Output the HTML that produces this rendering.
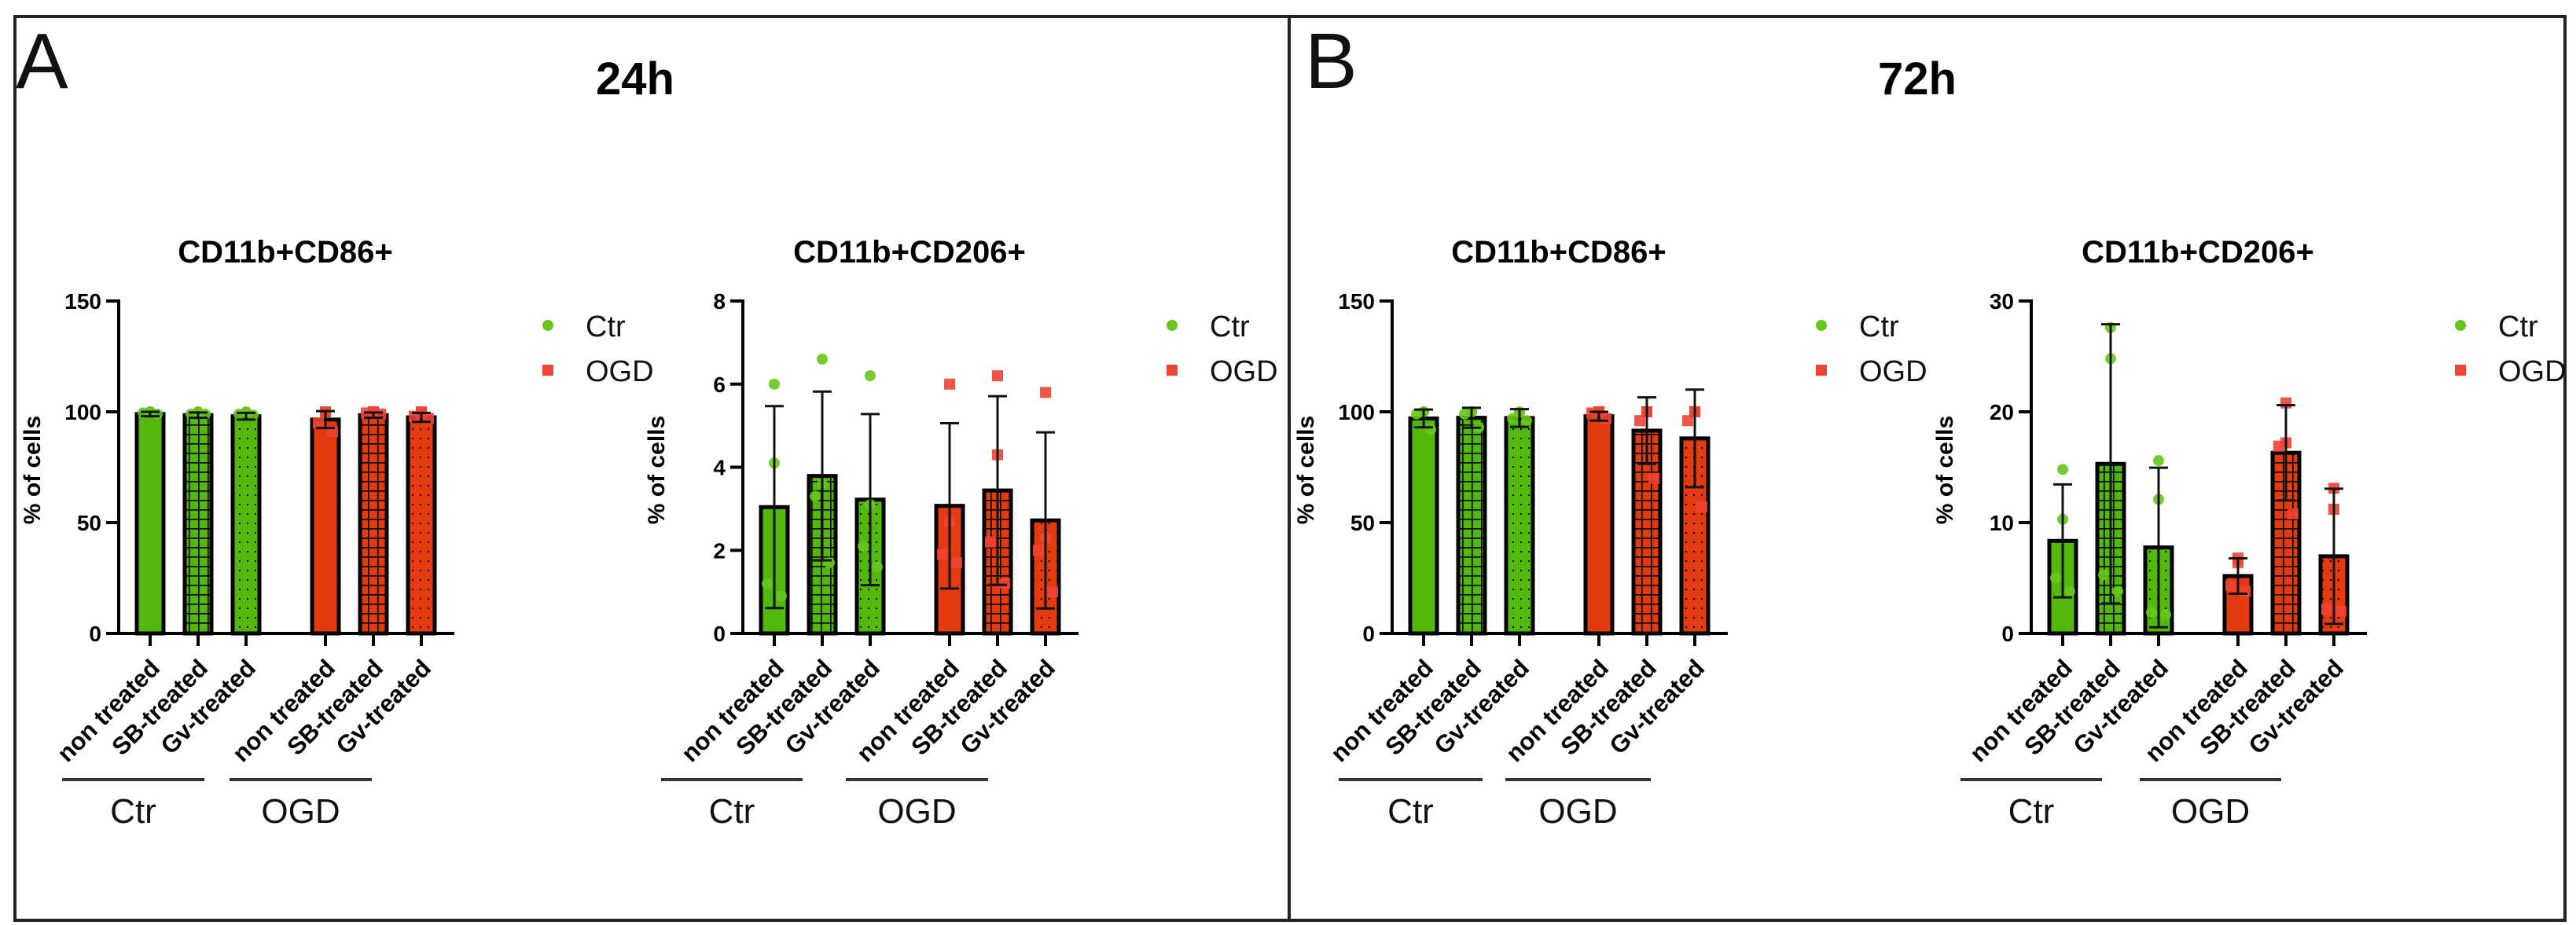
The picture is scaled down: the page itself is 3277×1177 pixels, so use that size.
<!DOCTYPE html>
<html><head><meta charset="utf-8">
<style>
html,body{margin:0;padding:0;background:#fff;}
svg{display:block;font-family:"Liberation Sans",Arial,sans-serif;}
</style></head>
<body>
<svg id="fig" width="3277" height="1177" viewBox="0 0 3277 1177" xmlns="http://www.w3.org/2000/svg">
<defs>
<pattern id="gridG" width="12" height="12" patternUnits="userSpaceOnUse"><rect width="12" height="12" fill="#52b80c"/><path d="M0 0.5H12M0.5 0V12" stroke="#000" stroke-width="2.2"/></pattern>
<pattern id="gridR" width="12" height="12" patternUnits="userSpaceOnUse"><rect width="12" height="12" fill="#e33a10"/><path d="M0 0.5H12M0.5 0V12" stroke="#000" stroke-width="2.2"/></pattern>
<pattern id="dotG" width="10" height="12" patternUnits="userSpaceOnUse"><rect width="10" height="12" fill="#52b80c"/><rect x="4" y="5" width="2" height="2" fill="#000"/></pattern>
<pattern id="dotR" width="10" height="12" patternUnits="userSpaceOnUse"><rect width="10" height="12" fill="#e33a10"/><rect x="4" y="5" width="2" height="2" fill="#000"/></pattern>
</defs>
<rect x="19" y="21" width="3244" height="1150" fill="none" stroke="#222" stroke-width="4"/>
<line x1="1640" y1="21" x2="1640" y2="1171" stroke="#222" stroke-width="4"/>
<text x="20" y="112" font-size="100" fill="#111">A</text>
<text x="808" y="120" font-size="58" font-weight="bold" text-anchor="middle">24h</text>
<text x="1660" y="112" font-size="100" fill="#111">B</text>
<text x="2439" y="120" font-size="58" font-weight="bold" text-anchor="middle">72h</text>
<g id="charts"></g>
</svg>
<script>
// ----- data -----
const categories = ["non treated","SB-treated","Gv-treated","non treated","SB-treated","Gv-treated"];
const groupLabels = ["Ctr","OGD"];
const chartTitles = ["CD11b+CD86+","CD11b+CD206+","CD11b+CD86+","CD11b+CD206+"];
const yMaxes = [150, 8, 150, 30];
const tickLabelsA1 = [0,50,100,150];
const tickLabelsA2 = [0,2,4,6,8];
const tickLabelsB1 = [0,50,100,150];
const tickLabelsB2 = [0,10,20,30];

const meansA1 = [99, 98.5, 98, 96.5, 98.5, 97.5];
const sdA1 = [1, 1.2, 1.5, 3.8, 1.2, 2];
const pointsA1 = [[100,100,99.5,99],[100,99.5,99,99],[100,99.5,99,98.5],[100,100,95,91],[100,100,99.5,99],[100,99.5,98,97]];

const meansA2 = [3.04, 3.79, 3.22, 3.07, 3.44, 2.72];
const sdA2 = [2.43, 2.03, 2.06, 1.99, 2.27, 2.12];
const pointsA2 = [[6.0,4.1,1.2,0.9],[6.6,3.6,3.3,1.7],[6.2,3.1,2.1,1.6],[6.0,2.7,1.9,1.7],[6.2,4.3,2.2,1.2],[5.8,2.3,2.0,1.0]];

const meansB1 = [97, 97.3, 97.2, 98, 91.5, 88];
const sdB1 = [4, 4.5, 4, 2, 15, 22];
const pointsB1 = [[100,100,99,92],[100,100,99,93],[100,99.5,97,96],[100,100,99.5,97],[100,100,96,70],[100,100,96,57]];

const meansB2 = [8.35, 15.3, 7.76, 5.18, 16.3, 6.96];
const sdB2 = [5.1, 12.6, 7.2, 1.6, 4.3, 6.1];
const pointsB2 = [[14.8,10.3,5.0,3.8],[27.6,24.8,5.3,3.8],[15.6,12.1,1.9,1.7],[6.8,6.4,4.3,3.8],[20.8,17.2,16.9,10.8],[13.1,11.2,2.2,2.0]];

const jitter = [0,0,-9,9];

// ----- layout -----
const charts = [
  {ax:151, means:meansA1, sd:sdA1, pts:pointsA1, ticks:tickLabelsA1, ymax:yMaxes[0], title:chartTitles[0], g1:[-72,109], g2:[141,322], id:"a-cd86"},
  {ax:945, means:meansA2, sd:sdA2, pts:pointsA2, ticks:tickLabelsA2, ymax:yMaxes[1], title:chartTitles[1], g1:[-104,76], g2:[131,312], id:"a-cd206"},
  {ax:1771, means:meansB1, sd:sdB1, pts:pointsB1, ticks:tickLabelsB1, ymax:yMaxes[2], title:chartTitles[2], g1:[-68,115], g2:[144,329], id:"b-cd86"},
  {ax:2584, means:meansB2, sd:sdB2, pts:pointsB2, ticks:tickLabelsB2, ymax:yMaxes[3], title:chartTitles[3], g1:[-90,90], g2:[138,318], id:"b-cd206"}
];
const Y0 = 806, Y1 = 383;
const NS = "http://www.w3.org/2000/svg";
const root = document.getElementById("charts");
function mk(tag, attrs, parent, txt){
  const e = document.createElementNS(NS, tag);
  for (const k in attrs) e.setAttribute(k, attrs[k]);
  if (txt !== undefined) e.textContent = txt;
  (parent||root).appendChild(e);
  return e;
}
const fills = ["#52b80c","url(#gridG)","url(#dotG)","#e33a10","url(#gridR)","url(#dotR)"];
const ptCol = ["#66c81a","#66c81a","#66c81a","#ee4433","#ee4433","#ee4433"];

charts.forEach(c => {
  const g = mk("g", {});
  
  
  const yS = v => Y0 - (v / c.ymax) * (Y0 - Y1);
  const xS = i => c.ax + 40 + i * 61 + (i >= 3 ? 40 : 0);

  const t = mk("text", {x:c.ax+212, y:334, "font-size":40, "font-weight":"bold", "text-anchor":"middle"}, g, c.title);
  
  

  // bars
  c.means.forEach((m, i) => {
    const x = xS(i), y = yS(m);
    const r = mk("rect", {x:x-17, y:y, width:34, height:Y0-y, fill:fills[i], stroke:"#000", "stroke-width":5}, g);
    
    
  });
  // points
  c.pts.forEach((arr, i) => {
    arr.forEach((v, j) => {
      const x = xS(i) + jitter[j], y = yS(v);
      let p;
      if (i < 3) p = mk("circle", {cx:x, cy:y, r:7, fill:ptCol[i], opacity:0.9}, g);
      else p = mk("rect", {x:x-7, y:y-7, width:14, height:14, fill:ptCol[i], opacity:0.9}, g);
      
      
    });
  });
  // error bars
  c.means.forEach((m, i) => {
    const x = xS(i), hi = yS(m + c.sd[i]), lo = yS(Math.max(0, m - c.sd[i]));
    const e = mk("path", {d:`M${x} ${lo}V${hi}M${x-12} ${hi}H${x+12}M${x-12} ${lo}H${x+12}`, stroke:"#111", "stroke-width":3, fill:"none"}, g);
    
    
  });
  // axes
  const ya = mk("line", {x1:c.ax, y1:Y1-2, x2:c.ax, y2:Y0, stroke:"#000", "stroke-width":4}, g);
  
  
  const xa = mk("line", {x1:c.ax-2, y1:Y0, x2:c.ax+427, y2:Y0, stroke:"#000", "stroke-width":4}, g);
  
  
  c.ticks.forEach(v => {
    const y = yS(v);
    mk("line", {x1:c.ax-16, y1:y, x2:c.ax, y2:y, stroke:"#000", "stroke-width":4}, g);
    const tl = mk("text", {x:c.ax-22, y:y+10, "font-size":28, "font-weight":"bold", "text-anchor":"end"}, g, v);
    
    
  });
  const yt = mk("text", {x:0, y:0, "font-size":30, "font-weight":"bold", "text-anchor":"middle", transform:`translate(${c.ax-100},598) rotate(-90)`}, g, "% of cells");
  
  
  categories.forEach((lab, i) => {
    const x = xS(i);
    mk("line", {x1:x, y1:Y0, x2:x, y2:Y0+16, stroke:"#000", "stroke-width":4}, g);
    const xl = mk("text", {x:0, y:0, "font-size":31, "font-weight":"bold", "text-anchor":"end", transform:`translate(${x+14},852) rotate(-45)`}, g, lab);
    
    
  });
  [c.g1, c.g2].forEach((gr, k) => {
    const gl = mk("line", {x1:c.ax+gr[0], y1:992, x2:c.ax+gr[1], y2:992, stroke:"#333", "stroke-width":4}, g);
    
    
    const gt = mk("text", {x:c.ax+(gr[0]+gr[1])/2, y:1047, "font-size":44, "text-anchor":"middle", fill:"#111"}, g, groupLabels[k]);
    
    
  });
  // legend
  const lc = mk("circle", {cx:c.ax+546, cy:414, r:7, fill:"#66c81a"}, g);
  
  
  const lt1 = mk("text", {x:c.ax+594, y:428, "font-size":38, fill:"#111"}, g, "Ctr");
  
  
  const lr = mk("rect", {x:c.ax+539, y:464, width:14, height:14, fill:"#ee4433"}, g);
  
  
  const lt2 = mk("text", {x:c.ax+594, y:485, "font-size":38, fill:"#111"}, g, "OGD");
  
  
});
</script>
</body></html>
